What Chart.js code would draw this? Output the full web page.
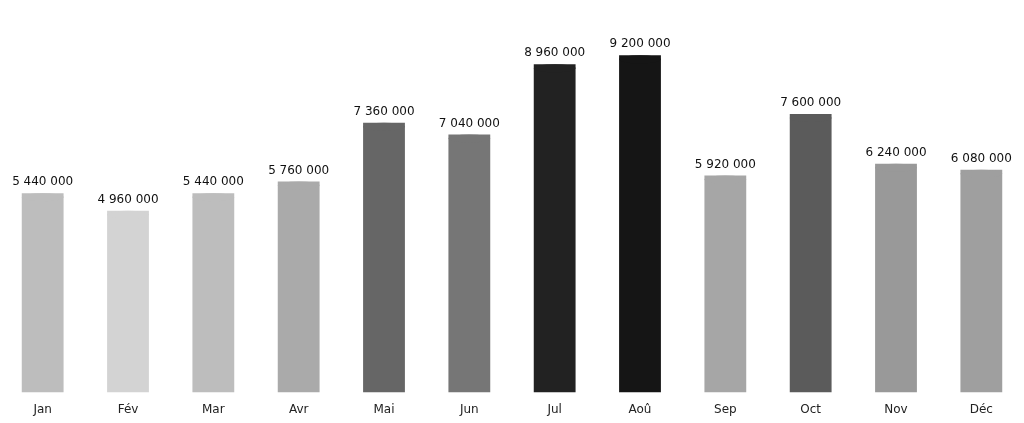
<!DOCTYPE html>
<html>
<head>
<meta charset="utf-8">
<script src="https://cdn.jsdelivr.net/npm/chart.js@4"></script>
<style>
  html, body { margin: 0; padding: 0; background: #fff; }
  #wrap { width: 1024px; height: 423px; }
</style>
</head>
<body>
<div id="wrap"><canvas id="chart"></canvas></div>
<script>
const months = ['Jan', 'Fév', 'Mar', 'Avr', 'Mai', 'Jun', 'Jul', 'Aoû', 'Sep', 'Oct', 'Nov', 'Déc'];
const visitors = [5440000, 4960000, 5440000, 5760000, 7360000, 7040000, 8960000, 9200000, 5920000, 7600000, 6240000, 6080000];
const barColors = ['#bdbdbd', '#d3d3d3', '#bdbdbd', '#aaaaaa', '#666666', '#767676', '#222222', '#151515', '#a6a6a6', '#5b5b5b', '#999999', '#9f9f9f'];

function fmt(v) {
    return String(v).replace(/\B(?=(\d{3})+(?!\d))/g, ' ');
}

// elliptical caps + value labels on top of each bar
const capsAndLabels = {
    id: 'capsAndLabels',
    afterDatasetsDraw(chart) {
        const ctx = chart.ctx;
        const meta = chart.getDatasetMeta(0);
        meta.data.forEach((bar, i) => {
            const half = bar.width / 2;
            ctx.save();
            ctx.fillStyle = barColors[i];
            ctx.beginPath();
            ctx.ellipse(bar.x, bar.y + 4, half, 4, 0, 0, Math.PI * 2);
            ctx.fill();
            ctx.fillStyle = '#111';
            ctx.font = '12px "DejaVu Sans"';
            ctx.textAlign = 'center';
            ctx.textBaseline = 'bottom';
            ctx.fillText(fmt(visitors[i]), bar.x, bar.y - 5);
            ctx.restore();
        });
    }
};

new Chart(document.getElementById('chart'), {
    type: 'bar',
    data: {
        labels: months,
        datasets: [{
            data: visitors,
            backgroundColor: barColors,
            borderWidth: 0,
            categoryPercentage: 1,
            barPercentage: 0.49
        }]
    },
    options: {
        responsive: true,
        maintainAspectRatio: false,
        animation: false,
        layout: { padding: { top: 26, left: 0, right: 0, bottom: 4 } },
        plugins: { legend: { display: false }, tooltip: { enabled: false } },
        scales: {
            x: {
                grid: { display: false },
                border: { display: false },
                ticks: { color: '#222', font: { family: 'DejaVu Sans', size: 12 }, padding: 2 }
            },
            y: {
                display: false,
                min: 0,
                max: 10000000
            }
        }
    },
    plugins: [capsAndLabels]
});
</script>
</body>
</html>
